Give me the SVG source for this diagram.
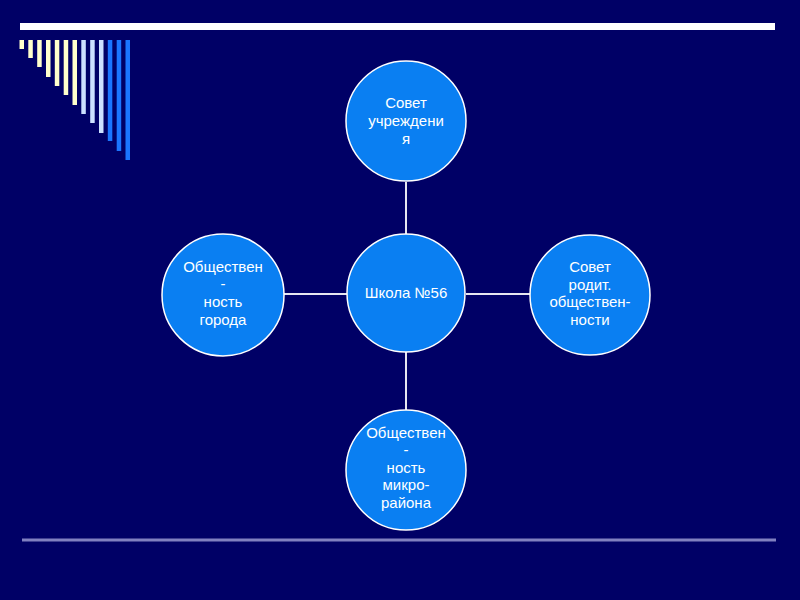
<svg xmlns="http://www.w3.org/2000/svg" width="800" height="600" viewBox="0 0 800 600">
<style>
.node{fill:#0A7FF2;stroke:#FFFFFF;stroke-width:1.5}
.lbl{fill:#FFFFFF;font-family:"Liberation Sans",Arial,sans-serif;font-size:15px;text-anchor:middle}
.conn{stroke:#E6E6F0;stroke-width:2;fill:none}
.c{fill:#FFFFCC}.l{fill:#CCE0FF}.b{fill:#1A75FF}
</style>
<rect x="0" y="0" width="800" height="600" fill="#000066"/>
<rect x="20" y="23" width="755" height="7" fill="#FFFFFF"/>
<g id="bars">
<rect class="c" x="19.5" y="40" width="4.5" height="9"/>
<rect class="c" x="28.3" y="40" width="4.5" height="18"/>
<rect class="c" x="37.2" y="40" width="4.5" height="27"/>
<rect class="c" x="46" y="40" width="4.5" height="37"/>
<rect class="c" x="54.8" y="40" width="4.5" height="46"/>
<rect class="c" x="63.7" y="40" width="4.5" height="55"/>
<rect class="c" x="72.5" y="40" width="4.5" height="65"/>
<rect class="l" x="81.3" y="40" width="4.5" height="74"/>
<rect class="l" x="90.2" y="40" width="4.5" height="83"/>
<rect class="l" x="99" y="40" width="4.5" height="93"/>
<rect class="b" x="107.8" y="40" width="4.5" height="101"/>
<rect class="b" x="116.7" y="40" width="4.5" height="111"/>
<rect class="b" x="125.5" y="40" width="4.5" height="120"/>
</g>
<rect x="22" y="538.5" width="754" height="3" fill="#8080C0"/>
<g id="connectors">
<line class="conn" x1="406" y1="182" x2="406" y2="234"/>
<line class="conn" x1="284" y1="294" x2="347" y2="294"/>
<line class="conn" x1="466" y1="294" x2="531" y2="294"/>
<line class="conn" x1="406" y1="352" x2="406" y2="410"/>
</g>
<g id="n-top">
<circle class="node" cx="406" cy="121" r="60"/>
<text class="lbl" x="406" y="108">Совет</text>
<text class="lbl" x="406" y="126">учреждени</text>
<text class="lbl" x="406" y="144">я</text>
</g>
<g id="n-center">
<circle class="node" cx="406" cy="293" r="59"/>
<text class="lbl" x="406" y="298">Школа №56</text>
</g>
<g id="n-left">
<circle class="node" cx="223" cy="295" r="61"/>
<text class="lbl" x="223" y="272">Обществен</text>
<text class="lbl" x="223" y="289">-</text>
<text class="lbl" x="223" y="307">ность</text>
<text class="lbl" x="223" y="325">города</text>
</g>
<g id="n-right">
<circle class="node" cx="590" cy="295" r="60"/>
<text class="lbl" x="590" y="272">Совет</text>
<text class="lbl" x="590" y="290">родит.</text>
<text class="lbl" x="590" y="307">обществен-</text>
<text class="lbl" x="590" y="325">ности</text>
</g>
<g id="n-bottom">
<circle class="node" cx="406" cy="470" r="60"/>
<text class="lbl" x="406" y="438">Обществен</text>
<text class="lbl" x="406" y="455">-</text>
<text class="lbl" x="406" y="473">ность</text>
<text class="lbl" x="406" y="490">микро-</text>
<text class="lbl" x="406" y="508">района</text>
</g>
</svg>
